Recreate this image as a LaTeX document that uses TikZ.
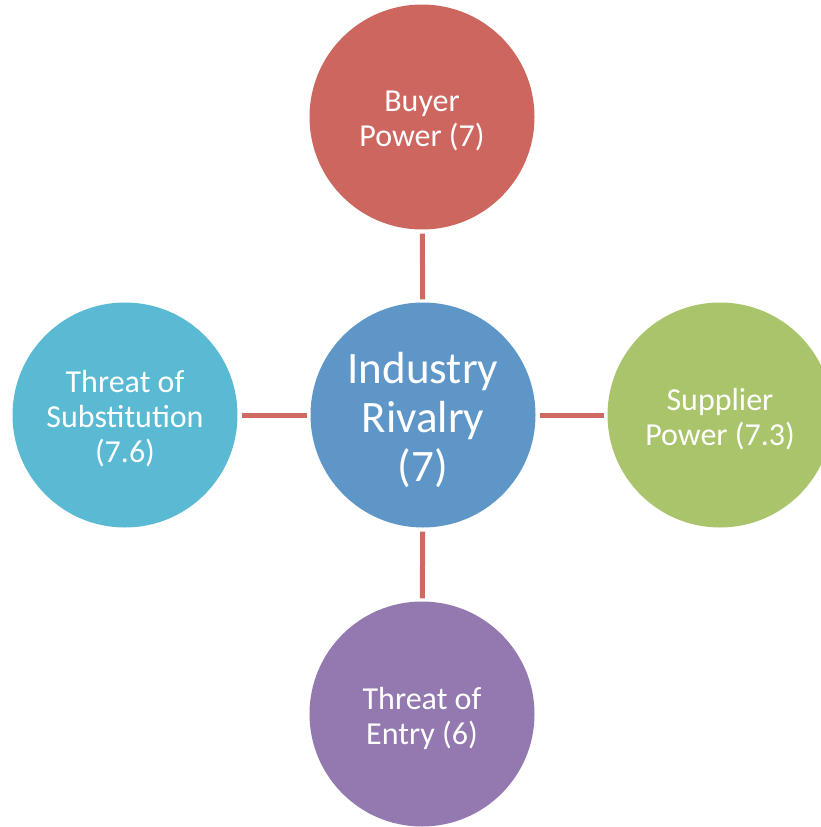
\documentclass[tikz,border=0pt]{standalone}
\usepackage{fontspec}
\setmainfont{Carlito}
\begin{document}
\begin{tikzpicture}[x=1pt,y=-1pt,
  force/.style={circle,minimum size=225pt,inner sep=0pt},
  forcetext/.style={text=white,align=center,inner sep=0pt,yshift=-4pt,
    font=\fontsize{32}{35}\selectfont},
  link/.style={draw=linkred,line width=5pt,shorten <=4pt,shorten >=3pt}]
\definecolor{linkred}{HTML}{CF6A63}
\definecolor{buyer}{HTML}{CD665F}
\definecolor{rivalry}{HTML}{5F96C8}
\definecolor{supplier}{HTML}{AAC46C}
\definecolor{substitute}{HTML}{5BBAD3}
\definecolor{entry}{HTML}{9379B0}
\useasboundingbox (0,0) rectangle (821,827);
% the five forces
\node[force,fill=rivalry] (rivalry) at (423,415) {};
\node[force,fill=buyer] (buyer) at (422,117) {};
\node[force,fill=supplier] (supplier) at (720,415) {};
\node[force,fill=substitute] (substitute) at (125,415) {};
\node[force,fill=entry] (entry) at (422,714) {};
% their captions
\node[forcetext,yshift=-1pt,font=\fontsize{45}{49}\selectfont] (rivalrytext) at (rivalry.center) {Industry\\Rivalry\\(7)};
\node[forcetext] (buyertext) at (buyer.center) {Buyer\\Power (7)};
\node[forcetext] (suppliertext) at (supplier.center) {Supplier\\Power (7.3)};
\node[forcetext] (substitutetext) at (substitute.center) {Threat of\\Substitution\\(7.6)};
\node[forcetext] (entrytext) at (entry.center) {Threat of\\Entry (6)};
% connectors from each force to the centre
\draw[link] (buyer) -- (rivalry);
\draw[link] (substitute) -- (rivalry);
\draw[link] (rivalry) -- (supplier);
\draw[link] (rivalry) -- (entry);
\end{tikzpicture}
\end{document}
